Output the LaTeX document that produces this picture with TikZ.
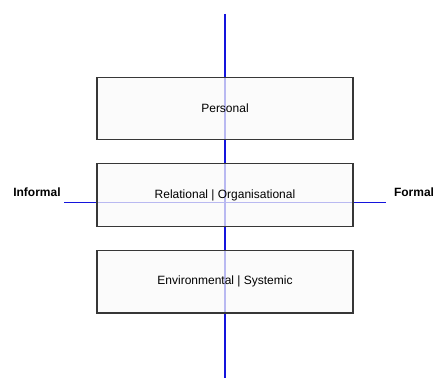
\documentclass[tikz,border=0pt]{standalone}
\usepackage{fontspec}
\setmainfont{Liberation Sans}
\usetikzlibrary{positioning}
\definecolor{axisblue}{RGB}{20,20,220}
\definecolor{boxline}{RGB}{55,55,55}
\definecolor{boxfill}{RGB}{250,250,250}

\begin{document}
\begin{tikzpicture}[
				x=0.75pt, y=0.75pt,
				node distance=17pt,
				axis/.style={draw=axisblue, line width=1.4pt},
				level/.style={rectangle, draw=boxline, line width=0.9pt, fill=boxfill, fill opacity=0.72, text opacity=1, minimum width=192pt, minimum height=47pt, align=center, font=\small},
				pole/.style={font=\small\bfseries}
			]
			\useasboundingbox (0,0) rectangle (434,378);
			% axes
			\coordinate (axtop) at (225,364);
			\coordinate (axbottom) at (225,0);
			\coordinate (axleft) at (64,175.5);
			\coordinate (axright) at (386,175.5);
			\draw[axis] (axtop) -- (axbottom);
			\draw[axis] (axleft) -- (axright);
			% levels
			\node[level] (personal) at (225,269.5) {Personal};
			\node[level, below=of personal] (relational) {Relational | Organisational};
			\node[level, below=of relational] (environmental) {Environmental | Systemic};
			% poles
			\node[pole] (informal) at (37,186) {Informal};
			\node[pole] (formal) at (414,186) {Formal};
		\end{tikzpicture}
\end{document}
